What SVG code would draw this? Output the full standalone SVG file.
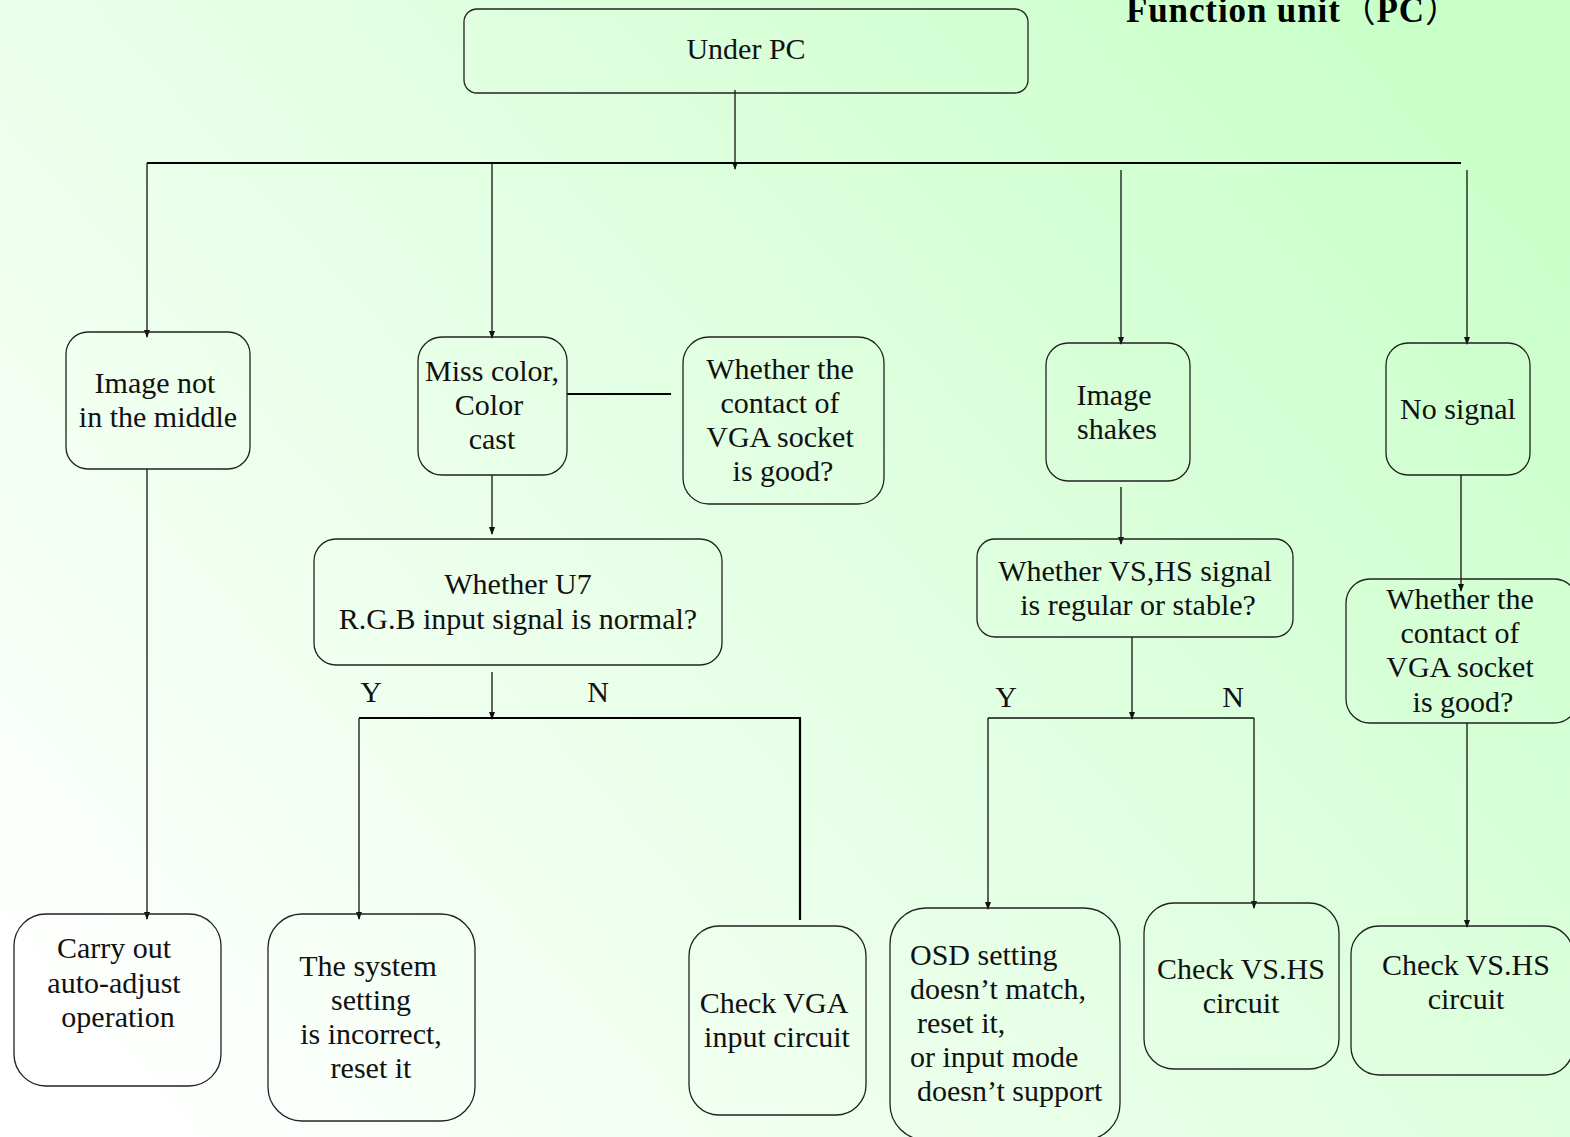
<svg xmlns="http://www.w3.org/2000/svg" width="1570" height="1137" viewBox="0 0 1570 1137">
<defs>
<linearGradient id="bg" gradientUnits="userSpaceOnUse" x1="150" y1="1137" x2="1420" y2="0">
<stop offset="0" stop-color="#ffffff"/>
<stop offset="1" stop-color="#c8ffc8"/>
</linearGradient>
<marker id="ah" markerWidth="8" markerHeight="8" refX="7" refY="4" orient="auto" markerUnits="userSpaceOnUse">
<path d="M0,1 L8,4 L0,7 Z" fill="#111"/>
</marker>
<style>
.n{fill:none;stroke:#222;stroke-width:1.3}
.t{font-family:"Liberation Serif","Times New Roman",serif;font-size:30px;fill:#111;text-anchor:middle}
.l{text-anchor:start}
.c{stroke:#111;stroke-width:1.3;fill:none}
.a{marker-end:url(#ah)}
.k{stroke:#000;stroke-width:2.2;fill:none}
.ti{font-family:"Liberation Serif","Noto Sans CJK SC",serif;font-size:35px;font-weight:bold;fill:#000}
.p{font-family:"Noto Sans CJK SC",sans-serif;font-weight:normal}
</style>
</defs>
<rect width="1570" height="1137" fill="url(#bg)"/>
<text class="ti" x="1126" y="22" textLength="334" lengthAdjust="spacing">Function unit<tspan class="p">（</tspan>PC<tspan class="p">）</tspan></text>

<g id="connectors">
<line class="c a" x1="735" y1="90" x2="735" y2="169"/>
<line class="k" x1="147" y1="163" x2="1461" y2="163"/>
<line class="c a" x1="147" y1="163" x2="147" y2="337"/>
<line class="c a" x1="492" y1="163" x2="492" y2="338"/>
<line class="c a" x1="1121" y1="170" x2="1121" y2="344"/>
<line class="c a" x1="1467" y1="170" x2="1467" y2="344"/>
<line class="k" x1="567" y1="394" x2="671" y2="394"/>
<line class="c a" x1="492" y1="475" x2="492" y2="534"/>
<line class="c a" x1="147" y1="469" x2="147" y2="919"/>
<line class="c a" x1="492" y1="672" x2="492" y2="719"/>
<line class="k" x1="359" y1="718" x2="800" y2="718"/>
<line class="c a" x1="359" y1="718" x2="359" y2="919"/>
<line class="k" x1="800" y1="717" x2="800" y2="920"/>
<line class="c a" x1="1121" y1="487" x2="1121" y2="544"/>
<line class="c a" x1="1132" y1="637" x2="1132" y2="719"/>
<line class="c" x1="988" y1="718" x2="1254" y2="718"/>
<line class="c a" x1="988" y1="718" x2="988" y2="909"/>
<line class="c a" x1="1254" y1="718" x2="1254" y2="908"/>
<line class="c a" x1="1461" y1="475" x2="1461" y2="591"/>
<line class="c a" x1="1467" y1="723" x2="1467" y2="927"/>
<text class="t" x="371" y="702">Y</text>
<text class="t" x="598" y="702">N</text>
<text class="t" x="1006" y="707">Y</text>
<text class="t" x="1233" y="707">N</text>
</g>

<g id="n-under-pc">
<rect class="n" x="464" y="9" width="564" height="84" rx="13"/>
<text class="t" x="746" y="59">Under PC</text>
</g>
<g id="n-image-not-middle">
<rect class="n" x="66" y="332" width="184" height="137" rx="22"/>
<text class="t" x="155" y="393">Image not</text>
<text class="t" x="158" y="427">in the middle</text>
</g>
<g id="n-miss-color">
<rect class="n" x="418" y="337" width="149" height="138" rx="24"/>
<text class="t" x="492" y="381">Miss color,</text>
<text class="t" x="489" y="415">Color</text>
<text class="t" x="492" y="449">cast</text>
</g>
<g id="n-vga-contact-1">
<rect class="n" x="683" y="337" width="201" height="167" rx="26"/>
<text class="t" x="780" y="379">Whether the</text>
<text class="t" x="780" y="413">contact of</text>
<text class="t" x="780" y="447">VGA socket</text>
<text class="t" x="783" y="481">is good?</text>
</g>
<g id="n-image-shakes">
<rect class="n" x="1046" y="343" width="144" height="138" rx="22"/>
<text class="t" x="1114" y="405">Image</text>
<text class="t" x="1117" y="439">shakes</text>
</g>
<g id="n-no-signal">
<rect class="n" x="1386" y="343" width="144" height="132" rx="22"/>
<text class="t" x="1458" y="419">No signal</text>
</g>
<g id="n-u7">
<rect class="n" x="314" y="539" width="408" height="126" rx="22"/>
<text class="t" x="518" y="594">Whether U7</text>
<text class="t" x="518" y="629">R.G.B input signal is normal?</text>
</g>
<g id="n-vshs">
<rect class="n" x="977" y="539" width="316" height="98" rx="18"/>
<text class="t" x="1135" y="581">Whether VS,HS signal</text>
<text class="t" x="1138" y="615">is regular or stable?</text>
</g>
<g id="n-vga-contact-2">
<rect class="n" x="1346" y="579" width="232" height="144" rx="24"/>
<text class="t" x="1460" y="609">Whether the</text>
<text class="t" x="1460" y="643">contact of</text>
<text class="t" x="1460" y="677">VGA socket</text>
<text class="t" x="1463" y="712">is good?</text>
</g>
<g id="n-carry-out">
<rect class="n" x="14" y="914" width="207" height="172" rx="32"/>
<text class="t" x="114" y="958">Carry out</text>
<text class="t" x="114" y="993">auto-adjust</text>
<text class="t" x="118" y="1027">operation</text>
</g>
<g id="n-system-setting">
<rect class="n" x="268" y="914" width="207" height="207" rx="34"/>
<text class="t" x="368" y="976">The system</text>
<text class="t" x="371" y="1010">setting</text>
<text class="t" x="371" y="1044">is incorrect,</text>
<text class="t" x="371" y="1078">reset it</text>
</g>
<g id="n-check-vga">
<rect class="n" x="689" y="926" width="177" height="189" rx="30"/>
<text class="t" x="774" y="1013">Check VGA</text>
<text class="t" x="777" y="1047">input circuit</text>
</g>
<g id="n-osd">
<rect class="n" x="890" y="908" width="230" height="232" rx="36"/>
<text class="t l" x="910" y="965">OSD setting</text>
<text class="t l" x="910" y="999">doesn’t match,</text>
<text class="t l" x="917" y="1033">reset it,</text>
<text class="t l" x="910" y="1067">or input mode</text>
<text class="t l" x="917" y="1101">doesn’t support</text>
</g>
<g id="n-check-vshs-1">
<rect class="n" x="1144" y="903" width="195" height="166" rx="30"/>
<text class="t" x="1241" y="979">Check VS.HS</text>
<text class="t" x="1241" y="1013">circuit</text>
</g>
<g id="n-check-vshs-2">
<rect class="n" x="1351" y="926" width="222" height="149" rx="28"/>
<text class="t" x="1466" y="975">Check VS.HS</text>
<text class="t" x="1466" y="1009">circuit</text>
</g>
</svg>
